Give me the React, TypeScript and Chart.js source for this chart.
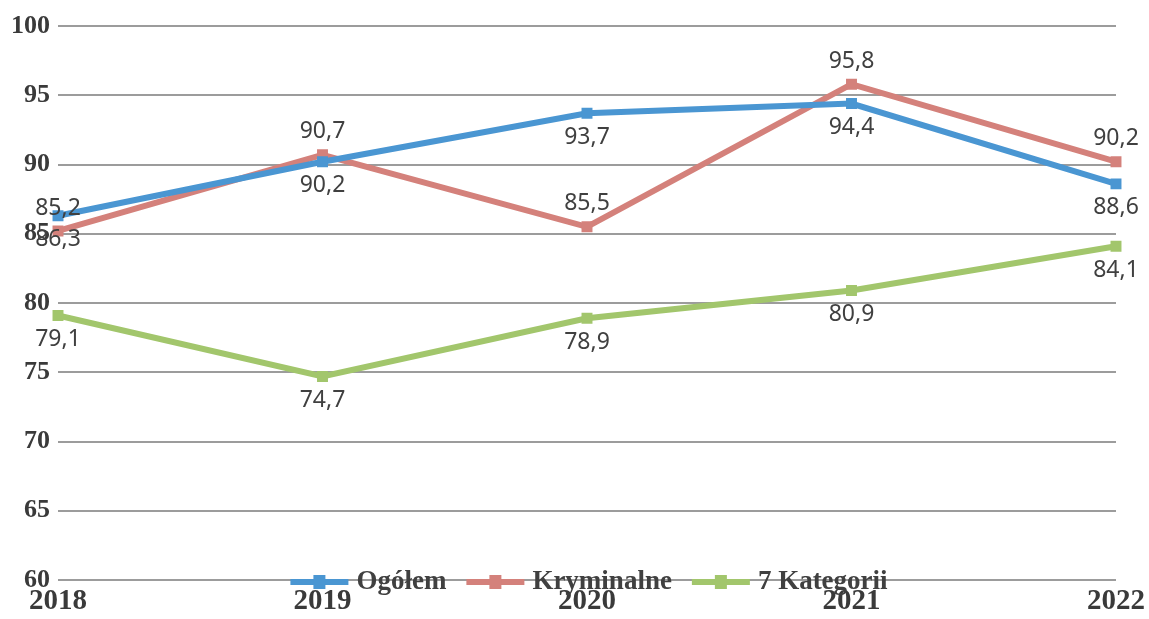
import React, { useEffect, useRef } from "react";
import { Chart, registerables } from "chart.js";

Chart.register(...registerables);

const years = ["2018", "2019", "2020", "2021", "2022"];
const ogolem = [86.3, 90.2, 93.7, 94.4, 88.6];
const kryminalne = [85.2, 90.7, 85.5, 95.8, 90.2];
const kategorii7 = [79.1, 74.7, 78.9, 80.9, 84.1];
const seriesNames = ["Ogółem", "Kryminalne", "7 Kategorii"];
const seriesColors = ["#4a96d2", "#d4817b", "#a2c66c"];
const labelOffsets = [24, -23, 24];

const SERIF = '"Liberation Serif", "Times New Roman", serif';
const SANS = '"Noto Sans", "Open Sans", sans-serif';

const labelPlugin = {
  id: "valueLabels",
  afterDatasetsDraw(chart: any) {
    const ctx = chart.ctx;
    ctx.save();
    ctx.font = `23px ${SANS}`;
    ctx.fillStyle = "#404040";
    ctx.textAlign = "center";
    ctx.textBaseline = "middle";
    chart.data.datasets.forEach((ds: any, i: number) => {
      const meta = chart.getDatasetMeta(i);
      meta.data.forEach((pt: any, j: number) => {
        const v = ds.data[j] as number;
        ctx.fillText(v.toFixed(1).replace(".", ","), pt.x, pt.y + labelOffsets[i]);
      });
    });
    ctx.restore();
  },
};

const legendPlugin = {
  id: "customLegend",
  afterDraw(chart: any) {
    const ctx = chart.ctx;
    ctx.save();
    ctx.font = `bold 27px ${SERIF}`;
    const lineLen = 58;
    const gap = 8;
    const spacing = 20;
    const widths = seriesNames.map((n) => ctx.measureText(n).width);
    const total =
      widths.reduce((a, w) => a + lineLen + gap + w, 0) + spacing * (seriesNames.length - 1);
    let x = 589 - total / 2;
    const lineY = 582;
    const textY = 589;
    seriesNames.forEach((name, i) => {
      ctx.strokeStyle = seriesColors[i];
      ctx.lineWidth = 6;
      ctx.beginPath();
      ctx.moveTo(x, lineY);
      ctx.lineTo(x + lineLen, lineY);
      ctx.stroke();
      ctx.fillStyle = seriesColors[i];
      ctx.fillRect(x + lineLen / 2 - 6, lineY - 7, 12, 14);
      ctx.fillStyle = "#404040";
      ctx.textAlign = "left";
      ctx.textBaseline = "alphabetic";
      ctx.fillText(name, x + lineLen + gap, textY);
      x += lineLen + gap + widths[i] + spacing;
    });
    ctx.restore();
  },
};

export default function App() {
  const canvasRef = useRef<HTMLCanvasElement | null>(null);

  useEffect(() => {
    if (!canvasRef.current) return;
    const allSeries = [ogolem, kryminalne, kategorii7];
    const chart = new Chart(canvasRef.current, {
      type: "line",
      data: {
        labels: years,
        datasets: allSeries.map((d, i) => ({
          label: seriesNames[i],
          data: d,
          borderColor: seriesColors[i],
          backgroundColor: seriesColors[i],
          borderWidth: 6,
          pointStyle: "rect",
          pointRadius: 3.5,
          pointHoverRadius: 3.5,
          tension: 0,
          fill: false,
        })),
      },
      options: {
        responsive: false,
        animation: false,
        devicePixelRatio: 1,
        layout: { padding: { left: 0, top: 26, right: 32, bottom: 0 } },
        plugins: {
          legend: { display: false },
          tooltip: { enabled: false },
        },
        scales: {
          x: {
            offset: false,
            grid: { display: false, drawTicks: false },
            border: { display: false },
            ticks: {
              font: { family: SERIF, size: 29, weight: "bold" },
              color: "#3a3a3a",
              padding: 4,
              maxRotation: 0,
              autoSkip: false,
            },
            afterFit: (scale: any) => {
              scale.height = 39;
            },
          },
          y: {
            min: 60,
            max: 100,
            grid: { color: "#9c9c9c", lineWidth: 2, drawTicks: false },
            border: { display: false },
            ticks: {
              stepSize: 5,
              font: { family: SERIF, size: 26, weight: "bold" },
              color: "#3a3a3a",
              padding: 8,
            },
            afterFit: (scale: any) => {
              scale.width = 58;
            },
          },
        },
      },
      plugins: [labelPlugin, legendPlugin],
    });
    return () => chart.destroy();
  }, []);

  return (
    <div style={{ position: "fixed", left: 0, top: 0, width: 1149, height: 619, background: "#fff" }}>
      <canvas ref={canvasRef} width={1149} height={619} style={{ display: "block" }} />
    </div>
  );
}
